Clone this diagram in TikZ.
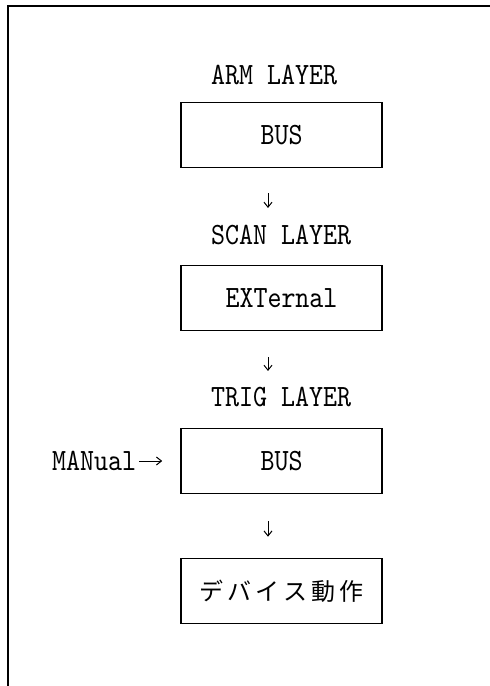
\documentclass[tikz,border=0pt]{standalone}
\usepackage{fontspec}
\newfontfamily\jpfont[LetterSpace=18]{Noto Sans CJK JP}
\newfontfamily\lmmono[FakeStretch=0.86]{lmmono10-regular.otf}
\usepackage{tikz}
\usetikzlibrary{arrows.meta, positioning}

\begin{document}
\begin{tikzpicture}[
    x=1pt, y=-1pt,
    node distance=44pt,
    layer/.style={font=\fontsize{31}{31}\lmmono, inner sep=0pt, anchor=west},
    stage/.style={rectangle, minimum width=201pt, minimum height=65pt, text centered, draw=black, line width=1.6pt, font=\fontsize{31}{31}\lmmono},
    arrow/.style={line width=1pt,-{Straight Barb[length=5pt,width=8pt]}}
]
\useasboundingbox (0,0) rectangle (490,686);

% Frame
\draw[line width=1.2pt] (8,686) -- (8,6) -- (490,6);

% Nodes
\node (arm) [layer] at (211,75) {ARM LAYER};
\node (bus1) [stage] at (281.5,135) {BUS};
\node (scan) [layer] at (211,235) {SCAN LAYER};
\node (ext) [stage] at (281.5,298) {EXTernal};
\node (trig) [layer] at (211,397) {TRIG LAYER};
\node (bus3) [stage] at (281.5,461) {BUS};
\node (manual) [layer, anchor=east, left=of bus3] {MANual};
\node (device) [stage, font=\fontsize{24}{24}\jpfont] at (281.5,591) {デバイス動作};

% Arrows
\draw [arrow, shorten <=25pt, shorten >=17pt] ([xshift=-13.5pt]bus1.south) -- ([xshift=-13.5pt]bus1.south |- scan.north);
\draw [arrow, shorten <=26pt, shorten >=16pt] ([xshift=-13.5pt]ext.south) -- ([xshift=-13.5pt]ext.south |- trig.north);
\draw [arrow, shorten <=27pt, shorten >=21pt] ([xshift=-13.5pt]bus3.south) -- ([xshift=-13.5pt]device.north);
\draw [arrow, shorten <=3pt, shorten >=18pt] (manual) -- (bus3);

\end{tikzpicture}
\end{document}
